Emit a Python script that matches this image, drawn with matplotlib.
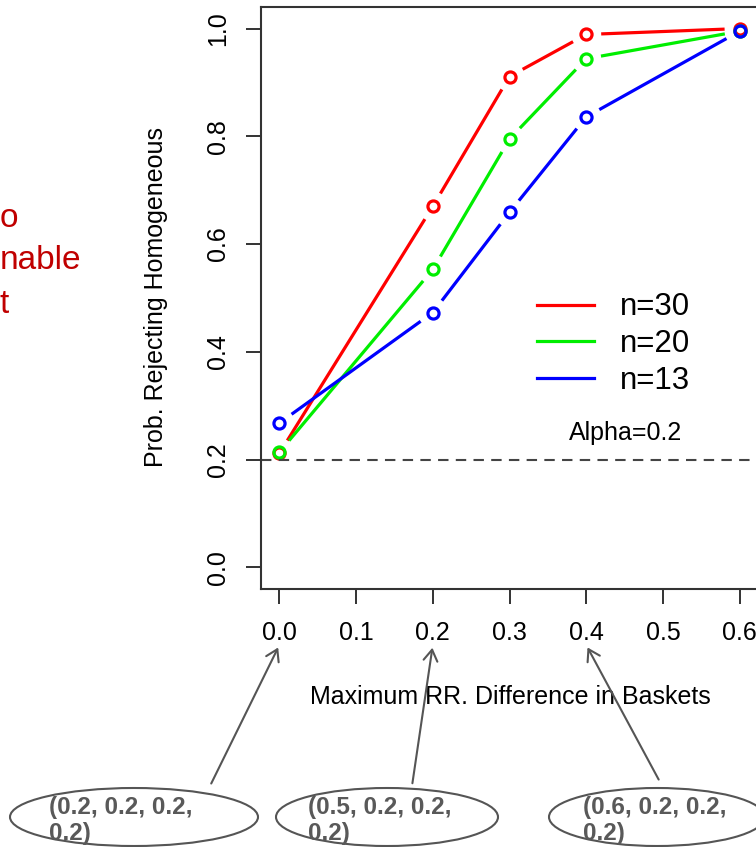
import numpy as np
import matplotlib
matplotlib.use('Agg')
import matplotlib.pyplot as plt
from matplotlib.patches import Ellipse, FancyArrowPatch

# Data
max_diff = [0.0, 0.2, 0.3, 0.4, 0.6]
prob_n30 = [0.212, 0.670, 0.911, 0.989, 1.000]
prob_n20 = [0.214, 0.553, 0.795, 0.944, 0.995]
prob_n13 = [0.268, 0.473, 0.659, 0.836, 0.995]
series_labels = ['n=30', 'n=20', 'n=13']
series_colors = ['#ff0000', '#00ee00', '#0000ff']
alpha_level = 0.2
x_ticks = [0.0, 0.1, 0.2, 0.3, 0.4, 0.5, 0.6]
y_ticks = [0.0, 0.2, 0.4, 0.6, 0.8, 1.0]
scenario_lines = [('(0.2, 0.2, 0.2,', '0.2)'), ('(0.5, 0.2, 0.2,', '0.2)'), ('(0.6, 0.2, 0.2,', '0.2)')]
scenario_x = [0.0, 0.2, 0.4]   # tick each arrow points at

plt.rcParams['font.family'] = ['Liberation Sans', 'DejaVu Sans']

W, H = 756, 847
fig = plt.figure(figsize=(W / 100, H / 100), dpi=100)
ax = fig.add_axes([261 / W, 1 - 589 / H, 497 / W, 582 / H])
ax.set_xlim(-0.024, 0.624)
ax.set_ylim(-0.04, 1.04)

# R type="b": lines broken around the points
gap = 15  # pixels
for ys, col in zip([prob_n30, prob_n20, prob_n13], series_colors):
    pts = ax.transData.transform(np.column_stack([max_diff, ys]))
    for p0, p1 in zip(pts[:-1], pts[1:]):
        d = p1 - p0
        L = np.hypot(*d)
        if L <= 2 * gap:
            continue
        u = d / L
        seg = ax.transData.inverted().transform([p0 + u * gap, p1 - u * gap])
        ax.plot(seg[:, 0], seg[:, 1], color=col, lw=2.3, solid_capstyle='butt')
    ax.plot(max_diff, ys, 'o', mfc='none', mec=col, mew=2.3, ms=8)

ax.axhline(alpha_level, color='#444444', lw=1.5, ls=(0, (5, 3.5)))

for s in ax.spines.values():
    s.set_color('#333333')
    s.set_linewidth(1.5)

ax.set_xticks(x_ticks)
ax.set_xticklabels([f'{t:.1f}' for t in x_ticks])
ax.set_yticks(y_ticks)
ax.set_yticklabels([f'{t:.1f}' for t in y_ticks], rotation=90, va='center')
ax.tick_params(axis='both', length=11, width=1.3, color='#222222', labelsize=18)
ax.tick_params(axis='x', pad=12)
ax.tick_params(axis='y', pad=11)
ax.set_xlabel('Maximum RR. Difference in Baskets', fontsize=18, va='center')
ax.set_ylabel('Prob. Rejecting Homogeneous', fontsize=18, va='center')
ax.xaxis.set_label_coords(0.501, -0.186)
ax.yaxis.set_label_coords(-0.211, 0.501)

# legend
handles = [plt.Line2D([], [], color=c, lw=2.3) for c in series_colors]
ax.legend(handles, series_labels, loc='center left', bbox_to_anchor=(537 / W, 1 - 344 / H),
          bbox_transform=fig.transFigure, frameon=False, fontsize=22.5,
          handlelength=1.82, handletextpad=0.83, labelspacing=0.21, borderpad=0,
          borderaxespad=0)
fig.text(626 / W, 1 - 433 / H, f'Alpha={alpha_level}', fontsize=18, ha='center', va='center')

# slide text cut off at the left edge
red_text = '#c00000'
fig.text(0, 1 - 227 / H, 'o', fontsize=24, color=red_text, ha='left', va='baseline')
fig.text(0, 1 - 269 / H, 'nable', fontsize=24, color=red_text, ha='left', va='baseline')
fig.text(0, 1 - 313 / H, 't', fontsize=24, color=red_text, ha='left', va='baseline')

# scenario ellipses with arrows to the ticks
ell_centers = [(134, 817), (387, 817), (657, 817)]
ell_widths = [248, 222, 216]
text_left = [49, 308, 583]
arrow_tails = [(210, 786), (412, 786), (660, 782)]
for (l1, l2), xv, (cx, cy), ew, tl, (tx, ty) in zip(scenario_lines, scenario_x, ell_centers,
                                                   ell_widths, text_left, arrow_tails):
    fig.patches.append(Ellipse((cx / W, 1 - cy / H), ew / W, 58 / H, transform=fig.transFigure,
                               fill=False, ec='#555555', lw=1.5))
    fig.text(tl / W, 1 - 814 / H, l1, fontsize=17.5, fontweight='bold', color='#595959',
             ha='left', va='baseline')
    fig.text(tl / W, 1 - 840 / H, l2, fontsize=17.5, fontweight='bold', color='#595959',
             ha='left', va='baseline')
    tip = ax.transData.transform((xv, 0))
    fig.add_artist(FancyArrowPatch((tx / W, 1 - ty / H), (tip[0] / W, 1 - 645 / H),
                                   transform=fig.transFigure,
                                   arrowstyle='->,head_length=8,head_width=5',
                                   color='#555555', lw=1.5, mutation_scale=1))

fig.savefig('out.png', dpi=100)
